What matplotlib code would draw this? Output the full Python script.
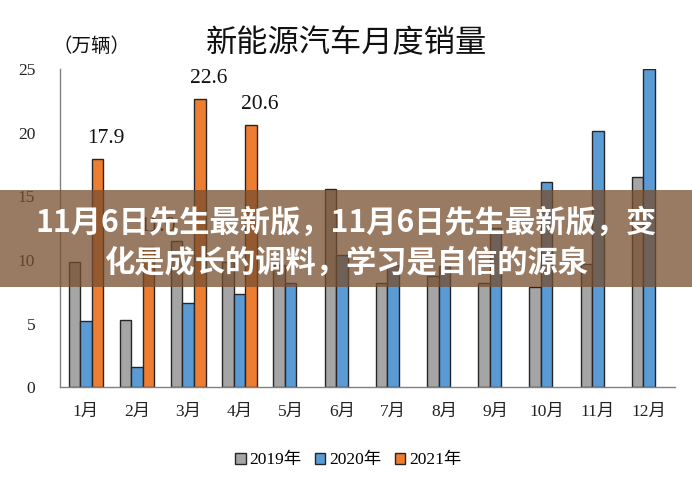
import numpy as np
import matplotlib.pyplot as plt
from matplotlib.patches import Rectangle

plt.rcParams['font.family'] = ['Liberation Serif', 'Noto Sans CJK SC', 'DejaVu Sans']

months = ['1月', '2月', '3月', '4月', '5月', '6月', '7月', '8月', '9月', '10月', '11月', '12月']
sales_2019 = [9.8, 5.3, 11.5, 9.8, 9.6, 15.6, 8.2, 8.7, 8.2, 7.9, 9.7, 16.5]
sales_2020 = [5.2, 1.6, 6.6, 7.3, 8.2, 10.4, 9.6, 9.5, 12.5, 16.1, 20.1, 25.0]
sales_2021 = [17.9, 11.0, 22.6, 20.6]
series_names = ['2019年', '2020年', '2021年']
colors = ['#A5A5A5', '#5B9BD5', '#ED7D31']

banner_lines = ['11月6日先生最新版，11月6日先生最新版，变', '化是成长的调料，学习是自信的源泉']

fig = plt.figure(figsize=(6.92, 4.78), dpi=100)
ax = fig.add_axes([0.087, 0.19, 0.888, 0.666])

x = np.arange(len(months))
w = 0.225
ax.bar(x - w, sales_2019, w, color=colors[0], edgecolor='#262626', linewidth=1, label=series_names[0])
ax.bar(x, sales_2020, w, color=colors[1], edgecolor='#262626', linewidth=1, label=series_names[1])
x21 = x[:len(sales_2021)] + w
ax.bar(x21, sales_2021, w, color=colors[2], edgecolor='#262626', linewidth=1, label=series_names[2])

for xi, v in zip(x21, sales_2021):
    ax.annotate('%.1f' % v, (xi, v), xytext=(9, 11), textcoords='offset pixels',
                ha='center', va='bottom', fontsize=15.5, color='#111111')

ax.set_xlim(-0.5, len(months) - 0.5)
ax.set_ylim(0, 25)
ax.set_yticks([0, 5, 10, 15, 20, 25])
ax.set_xticks(x)
ax.set_xticklabels(months)
ax.tick_params(axis='y', length=0, pad=18, labelsize=12.5, colors='#222222')
ax.tick_params(axis='x', length=0, pad=12, labelsize=12.5, colors='#222222')
for s in ['top', 'right']:
    ax.spines[s].set_visible(False)
for s in ['left', 'bottom']:
    ax.spines[s].set_color('#808080')
    ax.spines[s].set_linewidth(1)

fig.text(0.5, 0.91, '新能源汽车月度销量', ha='center', va='center', fontsize=22.5,
         family=['Noto Sans CJK SC'], color='#111111')
fig.text(0.132, 0.902, '（万辆）', ha='center', va='center', fontsize=14,
         family=['Noto Sans CJK SC'], color='#111111')

fig.legend(loc='center', bbox_to_anchor=(0.503, 0.037), ncol=3, frameon=False, fontsize=12.5,
           handlelength=0.6, handleheight=0.6, handletextpad=0.2, columnspacing=0.8)

# banner overlay
fig.patches.append(Rectangle((0, 0.3996), 1, 0.203, transform=fig.transFigure,
                             facecolor='#774E2E', alpha=0.75, edgecolor='none', zorder=10))
fig.text(0.5, 0.533, banner_lines[0], ha='center', va='center', fontsize=21.8, fontweight='bold',
         color='white', family=['Noto Sans CJK SC'], zorder=11)
fig.text(0.5, 0.45, banner_lines[1], ha='center', va='center', fontsize=21.8, fontweight='bold',
         color='white', family=['Noto Sans CJK SC'], zorder=11)

fig.savefig('out.png', dpi=100)
